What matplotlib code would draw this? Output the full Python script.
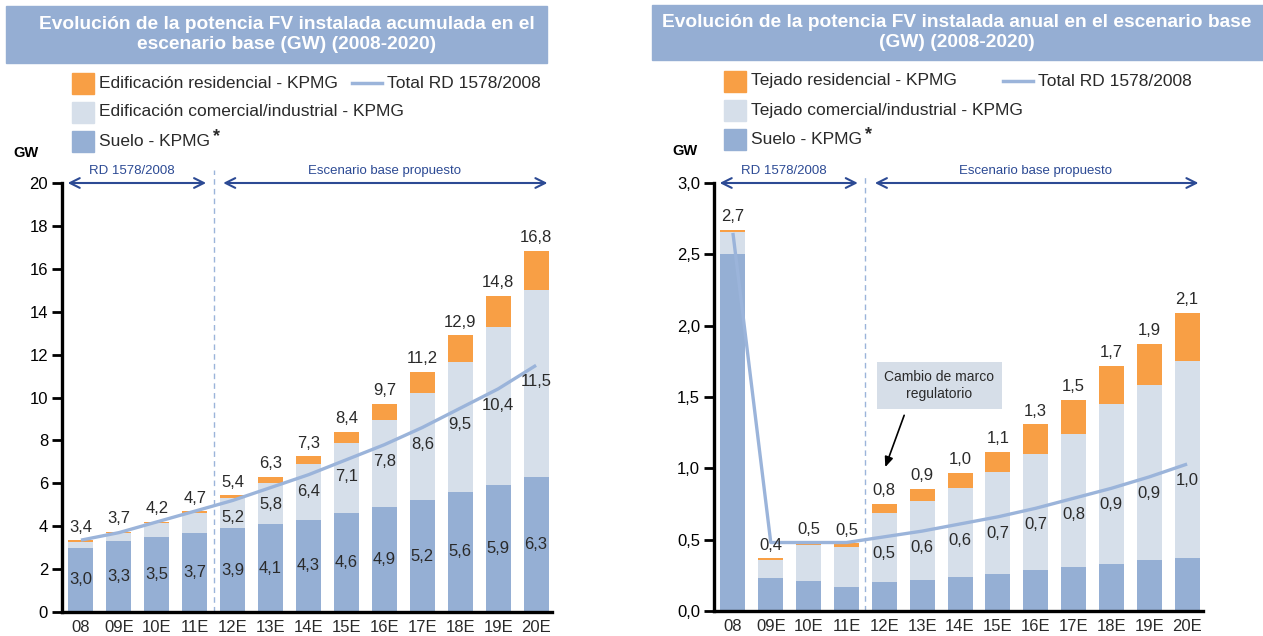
import matplotlib
matplotlib.use('Agg')
import matplotlib.pyplot as plt
from matplotlib.patches import Rectangle
import numpy as np

plt.rcParams['font.family'] = ['Liberation Sans', 'DejaVu Sans']

W, H = 1263, 636

years = ['08', '09E', '10E', '11E', '12E', '13E', '14E', '15E', '16E', '17E', '18E', '19E', '20E']

# acumulada (GW)
acc_suelo = [3.0, 3.3, 3.5, 3.7, 3.9, 4.1, 4.3, 4.6, 4.9, 5.2, 5.6, 5.9, 6.3]
acc_comercial = [0.28, 0.38, 0.65, 0.9, 1.4, 1.9, 2.6, 3.28, 4.05, 5.0, 6.05, 7.4, 8.7]
acc_residencial = [0.07, 0.05, 0.05, 0.1, 0.15, 0.3, 0.35, 0.52, 0.75, 1.0, 1.25, 1.45, 1.85]
acc_total_lbl = ['3,4', '3,7', '4,2', '4,7', '5,4', '6,3', '7,3', '8,4', '9,7', '11,2', '12,9', '14,8', '16,8']
acc_rd = [3.35, 3.7, 4.2, 4.7, 5.2, 5.8, 6.4, 7.1, 7.8, 8.6, 9.5, 10.4, 11.5]

# anual (GW)
an_suelo = [2.5, 0.23, 0.21, 0.165, 0.2, 0.22, 0.24, 0.26, 0.29, 0.31, 0.33, 0.355, 0.375]
an_comercial = [0.16, 0.13, 0.25, 0.285, 0.485, 0.55, 0.62, 0.715, 0.81, 0.93, 1.12, 1.23, 1.375]
an_residencial = [0.012, 0.01, 0.02, 0.025, 0.065, 0.085, 0.11, 0.14, 0.21, 0.24, 0.27, 0.29, 0.34]
an_total_lbl = ['2,7', '0,4', '0,5', '0,5', '0,8', '0,9', '1,0', '1,1', '1,3', '1,5', '1,7', '1,9', '2,1']
an_rd = [2.65, 0.48, 0.48, 0.48, 0.52, 0.56, 0.61, 0.66, 0.72, 0.79, 0.86, 0.94, 1.03]

c_suelo = '#95afd4'
c_com = '#d6dfea'
c_res = '#f89f45'
c_line = '#9bb4da'
c_arrow = '#2c4a94'
c_title = '#95aed3'
c_text = '#2a2a2a'


def rect(x0, y0, x1, y1):
    return [x0 / W, 1 - y1 / H, (x1 - x0) / W, (y1 - y0) / H]


def comma(v, fmt='{:.1f}'):
    return fmt.format(v).replace('.', ',')


fig = plt.figure(figsize=(W / 100, H / 100), dpi=100)


def title_box(x0, y0, x1, y1, txt, xc):
    fig.patches.append(Rectangle((x0 / W, 1 - y1 / H), (x1 - x0) / W, (y1 - y0) / H,
                                 transform=fig.transFigure, color=c_title, zorder=0))
    fig.text(xc / W, 1 - (y0 + y1) / 2 / H, txt, color='white', fontsize=13.8,
             fontweight='bold', ha='center', va='center', linespacing=1.18)


def legend(x_sq, y_rows, labels, x_line, line_lbl):
    for y, lab, col in zip(y_rows, labels, [c_res, c_com, c_suelo]):
        fig.patches.append(Rectangle((x_sq / W, 1 - (y + 11) / H), 22 / W, 21 / H,
                                     transform=fig.transFigure, color=col))
        t = fig.text((x_sq + 27) / W, 1 - y / H, lab, fontsize=12.5, color=c_text, va='center')
    fig.canvas.draw()
    bb = t.get_window_extent()
    fig.text((bb.x1 + 3) / W, 1 - (y_rows[2] - 4) / H, '*', fontsize=13, fontweight='bold',
             color=c_text, va='center')
    fig.add_artist(plt.Line2D([x_line / W, (x_line + 30) / W], [1 - y_rows[0] / H] * 2,
                              transform=fig.transFigure, color=c_line, lw=2.5))
    fig.text((x_line + 35) / W, 1 - y_rows[0] / H, line_lbl, fontsize=12.5, color=c_text, va='center')


def panel(ax, suelo, com, res, rd, total_lbl, ymax, ystep, yfmt, sep_top):
    x = np.arange(len(years))
    s = np.array(suelo)
    c = np.array(com)
    r = np.array(res)
    w = 0.66
    ax.bar(x, s, w, color=c_suelo, zorder=2)
    ax.bar(x, c, w, bottom=s, color=c_com, zorder=2)
    ax.bar(x, r, w, bottom=s + c, color=c_res, zorder=2)
    ax.plot(x, rd, color=c_line, lw=2.4, zorder=4, solid_capstyle='butt')
    tot = s + c + r
    for i in range(len(x)):
        ax.annotate(total_lbl[i], (x[i], tot[i]), xytext=(0, 4), textcoords='offset points',
                    ha='center', va='bottom', fontsize=12, color=c_text, zorder=5)
    ax.set_xlim(-0.5, 12.42)
    ax.set_ylim(0, ymax)
    ticks = np.arange(0, ymax + ystep / 2, ystep)
    ax.set_yticks(ticks)
    ax.set_yticklabels([yfmt(v) for v in ticks])
    ax.set_xticks(x)
    ax.set_xticklabels(years)
    for side in ['top', 'right']:
        ax.spines[side].set_visible(False)
    for side in ['left', 'bottom']:
        ax.spines[side].set_linewidth(2.4)
    ax.tick_params(axis='y', length=7, width=2, labelsize=12, colors='black', pad=3)
    ax.tick_params(axis='x', length=0, labelsize=12, pad=6, colors=c_text)
    ax.patch.set_visible(False)
    # separador RD / escenario
    ax.plot([3.5, 3.5], [0, sep_top], color=c_line, lw=1, ls=(0, (4, 3)), zorder=1, clip_on=False)
    arr = dict(arrowstyle='<->,head_length=0.7,head_width=0.35', color=c_arrow, lw=1.5,
               shrinkA=0, shrinkB=0)
    ax.annotate('', xy=(-0.35, ymax), xytext=(3.3, ymax), arrowprops=arr, annotation_clip=False)
    ax.annotate('', xy=(3.75, ymax), xytext=(12.3, ymax), arrowprops=arr, annotation_clip=False)
    ax.annotate('RD 1578/2008', (1.35, ymax), xytext=(0, 4), textcoords='offset points',
                color=c_arrow, fontsize=9.5, ha='center', va='bottom', annotation_clip=False)
    ax.annotate('Escenario base propuesto', (8.0, ymax), xytext=(0, 4), textcoords='offset points',
                color=c_arrow, fontsize=9.5, ha='center', va='bottom', annotation_clip=False)
    return x, s


# ---- izquierda: acumulada
ax1 = fig.add_axes(rect(62, 183, 552, 612))
x, s = panel(ax1, acc_suelo, acc_comercial, acc_residencial, acc_rd, acc_total_lbl,
             20, 2, lambda v: '%d' % v, 20.6)
for i in range(len(x)):
    ax1.text(x[i], s[i] / 2, comma(acc_suelo[i]), ha='center', va='center', fontsize=12,
             color=c_text, zorder=5)
for i in range(4, len(x)):
    ax1.annotate(comma(acc_rd[i]), (x[i], acc_rd[i]), xytext=(0, -12), textcoords='offset points',
                 ha='center', va='center', fontsize=12, color=c_text, zorder=5)

# ---- derecha: anual
ax2 = fig.add_axes(rect(714, 183, 1203, 611))
x, s = panel(ax2, an_suelo, an_comercial, an_residencial, an_rd, an_total_lbl,
             3.0, 0.5, lambda v: comma(v), 3.05)
for i in range(4, len(x)):
    ax2.annotate(comma(an_rd[i]), (x[i], an_rd[i]), xytext=(0, -12), textcoords='offset points',
                 ha='center', va='center', fontsize=12, color=c_text, zorder=5)
ax2.text(5.45, 1.58, 'Cambio de marco\nregulatorio', ha='center', va='center', fontsize=10,
         color=c_text, zorder=6, linespacing=1.3,
         bbox=dict(boxstyle='square,pad=0.55', fc='#d6dee8', ec='none'))
ax2.annotate('', xy=(4.0, 0.99), xytext=(4.55, 1.39),
             arrowprops=dict(arrowstyle='-|>,head_length=0.6,head_width=0.25', color='black', lw=1.2))

# titulos, leyendas, unidades
title_box(6, 6, 547, 63, 'Evolución de la potencia FV instalada acumulada en el\nescenario base (GW) (2008-2020)', 287)
title_box(652, 5, 1263, 60, 'Evolución de la potencia FV instalada anual en el escenario base\n(GW) (2008-2020)', 957)
legend(72, [83, 112, 141], ['Edificación residencial - KPMG',
                            'Edificación comercial/industrial - KPMG', 'Suelo - KPMG'],
       352, 'Total RD 1578/2008')
legend(724, [81, 110, 139], ['Tejado residencial - KPMG',
                             'Tejado comercial/industrial - KPMG', 'Suelo - KPMG'],
       1003, 'Total RD 1578/2008')
fig.text(13 / W, 1 - 153 / H, 'GW', fontsize=10.5, fontweight='bold', va='center')
fig.text(672 / W, 1 - 151 / H, 'GW', fontsize=10.5, fontweight='bold', va='center')

fig.savefig('out.png', dpi=100)
